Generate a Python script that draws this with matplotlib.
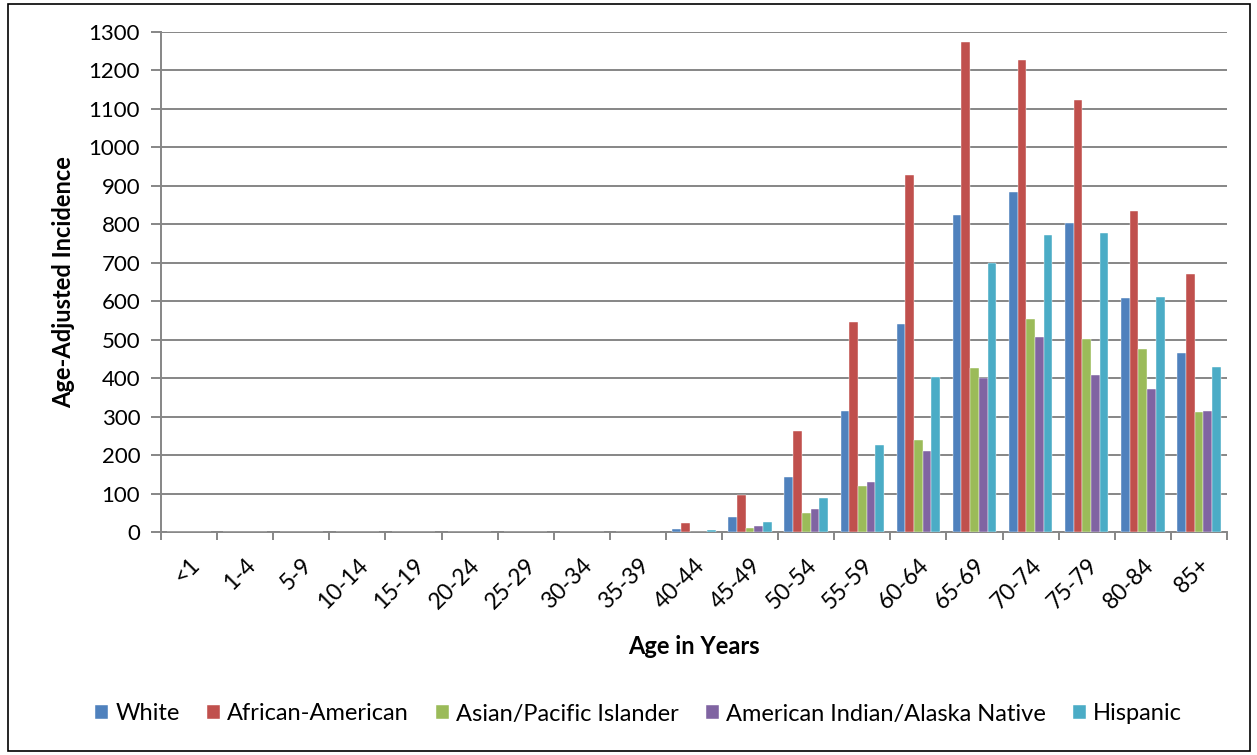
import numpy as np
import matplotlib.pyplot as plt
from matplotlib.patches import Rectangle

plt.rcParams['font.family'] = ['Lato', 'DejaVu Sans']

# age groups and incidence per race/ethnicity
edades = ['<1', '1-4', '5-9', '10-14', '15-19', '20-24', '25-29', '30-34', '35-39',
          '40-44', '45-49', '50-54', '55-59', '60-64', '65-69', '70-74', '75-79',
          '80-84', '85+']
blancos = [0, 0, 0, 0, 0, 0, 0, 0, 0, 8, 40, 142, 315, 542, 825, 885, 803, 608, 466]
afroamericanos = [0, 0, 0, 0, 0, 0, 0, 0, 0, 24, 95, 262, 545, 928, 1273, 1227, 1122, 835, 672]
asiaticos = [0, 0, 0, 0, 0, 0, 0, 0, 0, 0, 10, 50, 120, 240, 427, 555, 503, 475, 312]
indigenas = [0, 0, 0, 0, 0, 0, 0, 0, 0, 0, 15, 60, 130, 210, 400, 507, 408, 373, 315]
hispanos = [0, 0, 0, 0, 0, 0, 0, 0, 0, 5, 25, 88, 225, 402, 700, 773, 778, 612, 430]

series = [blancos, afroamericanos, asiaticos, indigenas, hispanos]
nombres = ['White', 'African-American', 'Asian/Pacific Islander',
           'American Indian/Alaska Native', 'Hispanic']
colores = ['#4F81BD', '#C0504D', '#9BBB59', '#8064A2', '#4BACC6']

fig = plt.figure(figsize=(12.57, 7.55), dpi=100)
ax = fig.add_axes([161 / 1257, 1 - 532 / 755, 1066 / 1257, 500 / 755])

x = np.arange(len(edades))
ancho = 0.155
for i, (vals, nombre, color) in enumerate(zip(series, nombres, colores)):
    ax.bar(x + (i - 2) * ancho, vals, width=ancho, color=color, label=nombre,
           edgecolor='white', linewidth=0.3, zorder=3)

ax.set_xlim(-0.5, len(edades) - 0.5)
ax.set_ylim(0, 1300)
ax.set_yticks(range(0, 1301, 100))
ax.grid(axis='y', color='#868686', linewidth=1.4, zorder=0)

for lado in ['top', 'right']:
    ax.spines[lado].set_visible(False)
for lado in ['left', 'bottom']:
    ax.spines[lado].set_color('#868686')
    ax.spines[lado].set_linewidth(1.4)

ax.set_xticks(x)
ax.set_xticklabels(edades, rotation=45, ha='right', rotation_mode='anchor', fontsize=16.5)
ax.set_xticks(np.arange(-0.5, len(edades)), minor=True)
ax.tick_params(axis='x', which='major', length=0, pad=16)
ax.tick_params(axis='x', which='minor', length=6, color='#868686', width=1.4)
ax.tick_params(axis='y', length=7, color='#868686', width=1.4, labelsize=16, pad=8)

ax.set_xlabel('Age in Years', fontsize=17, fontweight='bold', labelpad=16)
ax.set_ylabel('Age-Adjusted Incidence', fontsize=17, fontweight='bold', labelpad=10)

fig.legend(loc='center', bbox_to_anchor=(0.508, 1 - 714 / 755), ncol=5, frameon=False,
           fontsize=17, handlelength=0.55, handleheight=0.55, handletextpad=0.3,
           columnspacing=1.15)

fig.patches.append(Rectangle((8 / 1257, 4 / 755), 1242 / 1257, 747 / 755,
                             transform=fig.transFigure, fill=False,
                             edgecolor='black', linewidth=1.2))

plt.savefig('out.png', dpi=100)
